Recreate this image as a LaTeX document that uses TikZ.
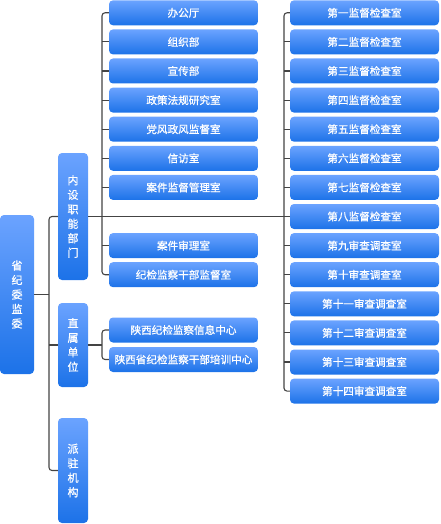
\documentclass[tikz,border=0pt]{standalone}
\usepackage{fontspec}
\newfontfamily\cjk{Noto Sans CJK SC}[FakeBold=0.8]
\definecolor{btop}{HTML}{6BA3FF}
\definecolor{bbot}{HTML}{1C72E8}
\definecolor{lnc}{HTML}{444444}
\tikzset{
  box/.style={rounded corners=4pt, top color=btop, bottom color=bbot, draw=none,
    text=white, inner sep=0pt, font=\cjk\fontsize{10.6}{13}\selectfont},
  hbox/.style={box, minimum width=149pt, minimum height=25pt},
  vbox/.style={box, minimum width=30pt, align=center, font=\cjk\fontsize{11}{14.5}\selectfont},
  conn/.style={draw=lnc, line width=1.1pt, rounded corners=3pt}
}
\begin{document}
\begin{tikzpicture}[x=1pt,y=-1pt]
\useasboundingbox (0,0) rectangle (440,524);
% root
\node[vbox, minimum width=34pt, minimum height=159pt] (root) at (17,294.5) {省\\纪\\委\\监\\委};
% level 2
\node[vbox, minimum height=127pt] (n1) at (73,216.5) {内\\设\\职\\能\\部\\门};
\node[vbox, minimum height=84pt] (n2) at (73,345) {直\\属\\单\\位};
\node[vbox, minimum height=105pt] (n3) at (73,470.5) {派\\驻\\机\\构};
% left column
\node[hbox] (a0) at (183.5,12.8) {办公厅};
\node[hbox] (a1) at (183.5,41.9) {组织部};
\node[hbox] (a2) at (183.5,71.0) {宣传部};
\node[hbox] (a3) at (183.5,100.1) {政策法规研究室};
\node[hbox] (a4) at (183.5,129.2) {党风政风监督室};
\node[hbox] (a5) at (183.5,158.3) {信访室};
\node[hbox] (a6) at (183.5,187.4) {案件监督管理室};
\node[hbox] (a8) at (183.5,245.6) {案件审理室};
\node[hbox] (a9) at (183.5,274.7) {纪检监察干部监督室};
\node[hbox] (b0) at (183.5,330) {陕西纪检监察信息中心};
\node[hbox] (b1) at (183.5,359.5) {陕西省纪检监察干部培训中心};
% right column
\node[hbox] (r0) at (364.5,12.8) {第一监督检查室};
\node[hbox] (r1) at (364.5,41.9) {第二监督检查室};
\node[hbox] (r2) at (364.5,71.0) {第三监督检查室};
\node[hbox] (r3) at (364.5,100.1) {第四监督检查室};
\node[hbox] (r4) at (364.5,129.2) {第五监督检查室};
\node[hbox] (r5) at (364.5,158.3) {第六监督检查室};
\node[hbox] (r6) at (364.5,187.4) {第七监督检查室};
\node[hbox] (r7) at (364.5,216.5) {第八监督检查室};
\node[hbox] (r8) at (364.5,245.6) {第九审查调查室};
\node[hbox] (r9) at (364.5,274.7) {第十审查调查室};
\node[hbox] (r10) at (364.5,303.8) {第十一审查调查室};
\node[hbox] (r11) at (364.5,332.9) {第十二审查调查室};
\node[hbox] (r12) at (364.5,362.0) {第十三审查调查室};
\node[hbox] (r13) at (364.5,391.1) {第十四审查调查室};
% trunk coordinates
\coordinate (tr) at (49,294.5);
\coordinate (tl) at (102,216.5);
\coordinate (td) at (102,345);
\coordinate (trr) at (284,216.5);
% root connectors
\draw[conn] (root.east) -- (tr);
\draw[conn] (n1.west) -| (tr) |- (n3.west);
\draw[conn] (n2.west) -- (n2.west -| tr);
% 内设 connectors
\draw[conn] (n1.east) -- (r7.west);
\draw[conn] (a0.west) -| (tl) |- (a9.west);
\foreach \i in {1,...,6,8} { \draw[conn] (a\i.west) -- (a\i.west -| tl); }
% 直属 connectors
\draw[conn] (n2.east) -- (td);
\draw[conn] (b0.west) -| (td) |- (b1.west);
% right connectors
\draw[conn] (r0.west) -| (trr) |- (r13.west);
\foreach \i in {1,...,12} { \draw[conn] (r\i.west) -- (r\i.west -| trr); }
\end{tikzpicture}
\end{document}
